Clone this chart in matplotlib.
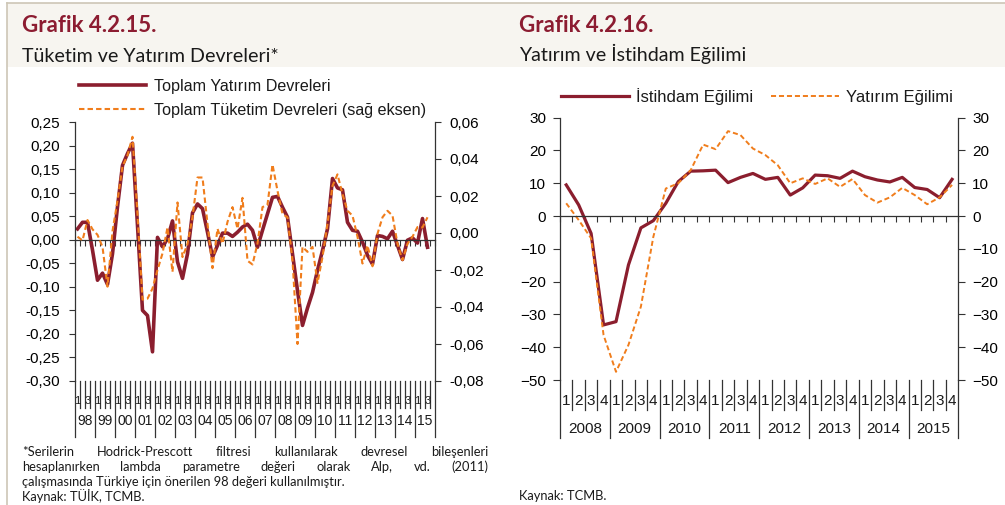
import matplotlib
matplotlib.use("Agg")
import matplotlib.pyplot as plt
import numpy as np
from matplotlib import transforms
from matplotlib.lines import Line2D
from matplotlib.patches import Rectangle

W, H = 1005, 505

# --- data -------------------------------------------------------------
# Grafik 4.2.15: quarterly cycles 1998Q1 - 2015Q3
invest_cycle = [
    0.023, 0.037, 0.037, -0.022, -0.086, -0.071, -0.095, -0.030, 0.070, 0.158,
    0.183, 0.205, 0.030, -0.150, -0.161, -0.238, 0.005, -0.015, 0.002, 0.040,
    -0.047, -0.082, -0.030, 0.057, 0.076, 0.066, 0.016, -0.037, -0.012, 0.014,
    0.014, 0.007, 0.016, 0.027, 0.033, 0.020, -0.016, 0.020, 0.055, 0.090,
    0.092, 0.069, 0.048, -0.030, -0.108, -0.182, -0.145, -0.112, -0.065, -0.023,
    0.023, 0.130, 0.110, 0.106, 0.037, 0.020, 0.018, -0.005, -0.033, -0.052,
    0.009, 0.007, 0.002, 0.018, -0.012, -0.042, -0.001, 0.004, -0.007, 0.045,
    -0.016,
]
consump_cycle = [
    -0.002, -0.004, 0.007, 0.002, -0.001, -0.0075, -0.029, 0.001, 0.0175, 0.036,
    0.042, 0.052, 0.010, -0.036, -0.0355, -0.030, -0.020, -0.011, 0.003, -0.021,
    0.0165, -0.013, -0.006, 0.0085, 0.030, 0.030, 0.005, -0.019, 0.0023, -0.0057,
    0.006, 0.014, 0.0023, 0.019, -0.015, -0.017, -0.0057, 0.014, 0.0153, 0.037,
    0.0228, 0.0103, 0.0085, -0.0147, -0.060, -0.0075, -0.0102, -0.0075, -0.027, -0.013,
    0.005, 0.0255, 0.0317, 0.021, 0.012, 0.0094, -0.002, -0.0165, -0.0067, -0.018,
    -0.0004, 0.0085, 0.012, 0.0094, -0.0058, -0.0147, -0.0058, -0.002, 0.0032, 0.003,
    0.0085,
]
cycle_years = ["98", "99", "00", "01", "02", "03", "04", "05", "06",
               "07", "08", "09", "10", "11", "12", "13", "14", "15"]
cycle_qlabels = ["1", "", "3", ""]
left_ticks = [0.25, 0.20, 0.15, 0.10, 0.05, 0.00, -0.05, -0.10, -0.15, -0.20, -0.25, -0.30]
right_ticks = [0.06, 0.04, 0.02, 0.00, -0.02, -0.04, -0.06, -0.08]

# Grafik 4.2.16: quarterly 2008Q1 - 2015Q4
trend_years = ["2008", "2009", "2010", "2011", "2012", "2013", "2014", "2015"]
trend_qlabels = ["1", "2", "3", "4"]
employment_trend = [
    9.5, 3.4, -5.3, -33.2, -32.2, -14.9, -3.6, -1.4, 3.9, 10.5,
    13.7, 13.8, 14.0, 10.2, 11.8, 13.0, 11.2, 11.8, 6.4, 8.6,
    12.5, 12.3, 11.5, 13.7, 12.0, 11.0, 10.4, 11.8, 8.7, 8.1,
    5.6, 11.2,
]
investment_trend = [
    3.9, -1.2, -6.8, -36.3, -47.5, -39.3, -27.6, -6.3, 8.4, 10.0,
    14.0, 21.8, 20.4, 25.9, 24.7, 20.6, 18.6, 15.5, 10.0, 11.5,
    9.8, 11.5, 8.9, 11.3, 6.4, 4.1, 5.7, 8.6, 6.4, 3.6,
    5.7, 9.5,
]
trend_ticks = [30, 20, 10, 0, -10, -20, -30, -40, -50]

RED = "#8b1e2e"
ORANGE = "#f07d1c"
TITLE_RED = "#8c1c31"
AX = "#333333"
TXT = "#1a1a1a"
TITLE_FONT = ["Lato", "DejaVu Sans"]

plt.rcParams["font.family"] = ["Liberation Sans", "DejaVu Sans"]
plt.rcParams["text.color"] = TXT

fig = plt.figure(figsize=(W / 100, H / 100), dpi=100)
fig.patch.set_facecolor("white")


def box(x0, y0, x1, y1):
    return [x0 / W, 1 - y1 / H, (x1 - x0) / W, (y1 - y0) / H]


def fmt_comma(v):
    return f"{v:.2f}".replace(".", ",")


def category_axis(ax, years, qlabels, ax_h, q_len, y_len, q_y, y_y, q_fs, y_fs):
    # multi-level category labels (quarter / year) under the plot area
    per = len(qlabels)
    n = len(years) * per
    tr = transforms.blended_transform_factory(ax.transData, ax.transAxes)
    for k in range(n + 1):
        d = y_len if k % per == 0 else q_len
        ax.add_line(Line2D([k, k], [0, -d / ax_h], transform=tr, color=AX,
                           lw=0.9, clip_on=False))
    for k in range(n):
        lab = qlabels[k % per]
        if lab:
            ax.text(k + 0.5, -q_y / ax_h, lab, transform=tr, ha="center",
                    va="center", fontsize=q_fs, clip_on=False)
    for j, yl in enumerate(years):
        ax.text((j + 0.5) * per, -y_y / ax_h, yl, transform=tr, ha="center",
                va="center", fontsize=y_fs, clip_on=False)


def zero_axis(ax, n):
    ax.spines["bottom"].set_position(("data", 0))
    ax.spines["bottom"].set_color(AX)
    ax.spines["bottom"].set_linewidth(0.9)
    ax.set_xticks(np.arange(0, n + 1))
    ax.tick_params(axis="x", direction="out", length=4, width=0.8,
                   color=AX, labelbottom=False)
    ax.set_xlim(0, n)


# --- header band ------------------------------------------------------
fig.patches.append(Rectangle((7 / W, 1 - 67 / H), 1 - 7 / W, 64 / H,
                             transform=fig.transFigure, facecolor="#f7f5f0",
                             edgecolor="none", zorder=0))
fig.add_artist(Line2D([7 / W, 1], [1 - 3 / H, 1 - 3 / H], color="#cdc6b6", lw=1.2))
fig.add_artist(Line2D([7 / W, 7 / W], [0, 1 - 3 / H], color="#cdc6b6", lw=1.2))

for x0, t1, t2 in [(22, "Grafik 4.2.15.", "Tüketim ve Yatırım Devreleri*"),
                   (519, "Grafik 4.2.16.", "Yatırım ve İstihdam Eğilimi")]:
    fig.text(x0 / W, 1 - 32 / H, t1, color=TITLE_RED, fontsize=16,
             fontweight="bold", family=TITLE_FONT, va="baseline")
    fig.text(x0 / W, 1 - 61.5 / H, t2, color=TXT, fontsize=14.1,
             family=TITLE_FONT, va="baseline")

# --- left chart: cycles ----------------------------------------------
axL = fig.add_axes(box(75, 122, 435, 381))
axL.set_facecolor("none")
x_cyc = np.arange(len(invest_cycle)) + 0.5
n_cyc = len(cycle_years) * 4
zero_axis(axL, n_cyc)
axL.set_ylim(-0.30, 0.25)
axL.set_yticks(left_ticks)
axL.set_yticklabels([fmt_comma(v) for v in left_ticks])
axL.tick_params(axis="y", direction="out", length=4.5, width=0.8, color=AX,
                pad=6, labelsize=11)
for s in ["top", "right"]:
    axL.spines[s].set_visible(False)
axL.spines["left"].set_color(AX)
axL.spines["left"].set_linewidth(0.9)
l1, = axL.plot(x_cyc, invest_cycle, color=RED, lw=2.6, solid_joinstyle="round")

axL2 = axL.twinx()
axL2.set_ylim(-0.08, 0.06)
axL2.set_yticks(right_ticks)
axL2.set_yticklabels([fmt_comma(v) for v in right_ticks])
axL2.tick_params(axis="y", direction="out", length=4.5, width=0.8, color=AX,
                 pad=6, labelsize=11)
axL2.tick_params(axis="x", bottom=False, top=False)
for s in ["top", "left", "bottom"]:
    axL2.spines[s].set_visible(False)
axL2.spines["right"].set_color(AX)
axL2.spines["right"].set_linewidth(0.9)
l2, = axL2.plot(x_cyc, consump_cycle, color=ORANGE, lw=1.5, dashes=(2.6, 1.5))

category_axis(axL, cycle_years, cycle_qlabels, 259, 27, 56, 20, 40, 8, 10)

axL.legend([l1, l2], ["Toplam Yatırım Devreleri",
                      "Toplam Tüketim Devreleri (sağ eksen)"],
           loc="upper left", bbox_to_anchor=(79 / W, 1 - 79 / H),
           bbox_transform=fig.transFigure, frameon=False, fontsize=11.6,
           handlelength=4.15, handletextpad=0.5, labelspacing=0.55,
           borderpad=0, borderaxespad=0)

# --- right chart: trends ---------------------------------------------
axR = fig.add_axes(box(560, 117.7, 958.3, 380))
axR.set_facecolor("none")
x_tr = np.arange(len(employment_trend)) + 0.5
n_tr = len(trend_years) * 4
zero_axis(axR, n_tr)
axR.set_ylim(-50, 30)
axR.set_yticks(trend_ticks)
axR.tick_params(axis="y", direction="out", length=5, width=0.8, color=AX,
                pad=5, labelsize=11, right=True, labelright=True)
axR.spines["top"].set_visible(False)
for s in ["left", "right"]:
    axR.spines[s].set_color(AX)
    axR.spines[s].set_linewidth(0.9)
r1, = axR.plot(x_tr, employment_trend, color=RED, lw=2.3)
r2, = axR.plot(x_tr, investment_trend, color=ORANGE, lw=1.4, dashes=(2.6, 1.5))

category_axis(axR, trend_years, trend_qlabels, 262.3, 30, 58, 21, 49, 11, 11)

axR.legend([r1, r2], ["İstihdam Eğilimi", "Yatırım Eğilimi"], ncol=2,
           loc="upper left", bbox_to_anchor=(561 / W, 1 - 88 / H),
           bbox_transform=fig.transFigure, frameon=False, fontsize=12,
           handlelength=4.07, handletextpad=0.42, columnspacing=1.08,
           borderpad=0, borderaxespad=0)

# --- footnotes -------------------------------------------------------
FOOT_FS = 9.3
renderer = fig.canvas.get_renderer()


def foot_line(text, x0, y, x1=None):
    if x1 is None:
        fig.text(x0 / W, 1 - y / H, text, fontsize=FOOT_FS, family=TITLE_FONT,
                 va="baseline")
        return
    words = text.split()
    ts = [fig.text(x0 / W, 1 - y / H, w, fontsize=FOOT_FS, family=TITLE_FONT,
                   va="baseline") for w in words]
    widths = [t.get_window_extent(renderer).width for t in ts]
    gap = (x1 - x0 - sum(widths)) / (len(words) - 1)
    x = x0
    for t, w in zip(ts, widths):
        t.set_x(x / W)
        x += w + gap


foot_line("*Serilerin Hodrick-Prescott filtresi kullanılarak devresel bileşenleri",
          22, 456, 488)
foot_line("hesaplanırken lambda parametre değeri olarak Alp, vd. (2011)",
          22, 471, 488)
foot_line("çalışmasında Türkiye için önerilen 98 değeri kullanılmıştır.", 22, 486)
foot_line("Kaynak: TÜİK, TCMB.", 22, 501)
foot_line("Kaynak: TCMB.", 519, 500)

fig.savefig("out.png", dpi=100)
